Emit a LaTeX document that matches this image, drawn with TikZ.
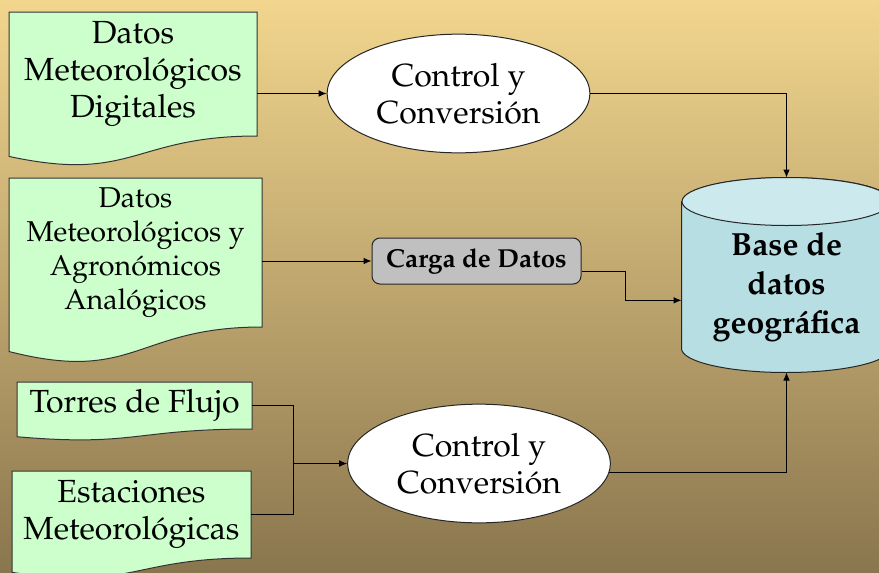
\documentclass[tikz,border=0pt]{standalone}
\usepackage[T1]{fontenc}
\usepackage{mathpazo}
\usetikzlibrary{arrows.meta,shapes.geometric,calc,backgrounds}

\definecolor{bgtop}{RGB}{242,214,142}
\definecolor{bgbot}{RGB}{138,118,78}
\definecolor{docgreen}{RGB}{204,255,204}
\definecolor{loadgray}{RGB}{192,192,192}
\definecolor{dbside}{RGB}{183,222,227}
\definecolor{dbtop}{RGB}{204,233,237}

% document outline with a wavy bottom, drawn round a named node
\newcommand{\docshape}[1]{%
  \draw[doc line] let \p1=(#1.north west), \p2=(#1.south east), \p3=(#1.south),
    \n1={\y1-\y2} in
    (\p1) -- (\x2,\y1) -- (\p2)
    .. controls (\p3) and (\x3,{\y3-0.381*\n1}) .. (\x1,{\y2-0.1645*\n1}) -- cycle;}

\begin{document}
\begin{tikzpicture}[x=0.75pt, y=-0.75pt, >={Latex[length=6pt,width=5pt]}, line width=0.75pt,
	doc node/.style={rectangle, inner sep=0pt, align=center, anchor=north west,
		font=\fontsize{24}{27.75}\selectfont},
	doc line/.style={draw=black!80, fill=docgreen, line width=0.75pt},
	proc node/.style={ellipse, draw=black!85, fill=white, inner sep=0pt, align=center,
		minimum width=197pt, minimum height=89pt, font=\fontsize{24}{27.75}\selectfont},
	load node/.style={rectangle, rounded corners=6pt, draw=black!85, fill=loadgray,
		minimum width=156.75pt, minimum height=34.5pt, inner sep=0pt,
		font=\bfseries\fontsize{19.5}{22}\selectfont},
	db node/.style={rectangle, inner sep=0pt, minimum width=156.75pt, minimum height=145.5pt},
	db line/.style={draw=black!85, line width=0.75pt},
	db text/.style={align=center, inner sep=0pt, font=\bfseries\fontsize{24}{29.25}\selectfont}]
	
	% Background
	\begin{scope}[on background layer]
		\shade[top color=bgtop, bottom color=bgbot] (0,0) rectangle (879,572);
	\end{scope}
	\useasboundingbox (0,0) rectangle (879,572);
	
	% Sources
	\node[doc node, minimum width=185.25pt, minimum height=92.25pt] (dig) at (9,12) {Datos\\Meteorol\'ogicos\\Digitales};
	\node[doc node, minimum width=189pt, minimum height=111pt, font=\fontsize{21.5}{25.5}\selectfont] (ana) at (9,178) {Datos\\Meteorol\'ogicos y\\Agron\'omicos\\Anal\'ogicos};
	\node[doc node, minimum width=175.5pt, minimum height=34.5pt] (tor) at (17,382) {Torres de Flujo};
	\node[doc node, minimum width=178.5pt, minimum height=64.5pt] (est) at (12,471) {Estaciones\\Meteorol\'ogicas};
	
	\begin{scope}[on background layer]
		\docshape{dig}
		\docshape{ana}
		\docshape{tor}
		\docshape{est}
	\end{scope}
	
	% Processes
	\node[proc node] (cc1) at (458.5,93.5) {Control y\\Conversi\'on};
	\node[load node] (carga) at (476.5,261) {Carga de Datos};
	\node[proc node] (cc2) at (479,463.5) {Control y\\Conversi\'on};
	
	% Database cylinder
	\node[db node] (db) at (786.5,275) {};
	\draw[db line, fill=dbside] ([yshift=-18pt]db.north west) -- ([yshift=18pt]db.south west)
		arc[start angle=180, end angle=360, x radius=78.375pt, y radius=18pt]
		-- ([yshift=-18pt]db.north east)
		arc[start angle=0, end angle=180, x radius=78.375pt, y radius=18pt] -- cycle;
	\draw[db line, fill=dbtop] ([yshift=-18pt]db.north) ellipse[x radius=78.375pt, y radius=18pt];
	\node[db text] (dbtxt) at ([yshift=-9pt]db.center) {Base de\\datos\\geogr\'afica};
	
	% Connectors
	\draw[->] (dig.east |- cc1.west) -- (cc1.west);
	\draw[->] (cc1.east) -| (db.north);
	\draw[->] (ana.east |- carga.west) -- (carga.west);
	\draw[->] ([yshift=-8pt]carga.east) -- ++(44,0) |- ([yshift=-19pt]db.west);
	\coordinate (join) at ([xshift=-40pt]cc2.west);
	\draw (tor.east) -| (join);
	\draw (est.east) -| (join);
	\draw[->] (join) -- (cc2.west);
	\draw[->] (cc2.-4) -| (db.south);
\end{tikzpicture}
\end{document}
